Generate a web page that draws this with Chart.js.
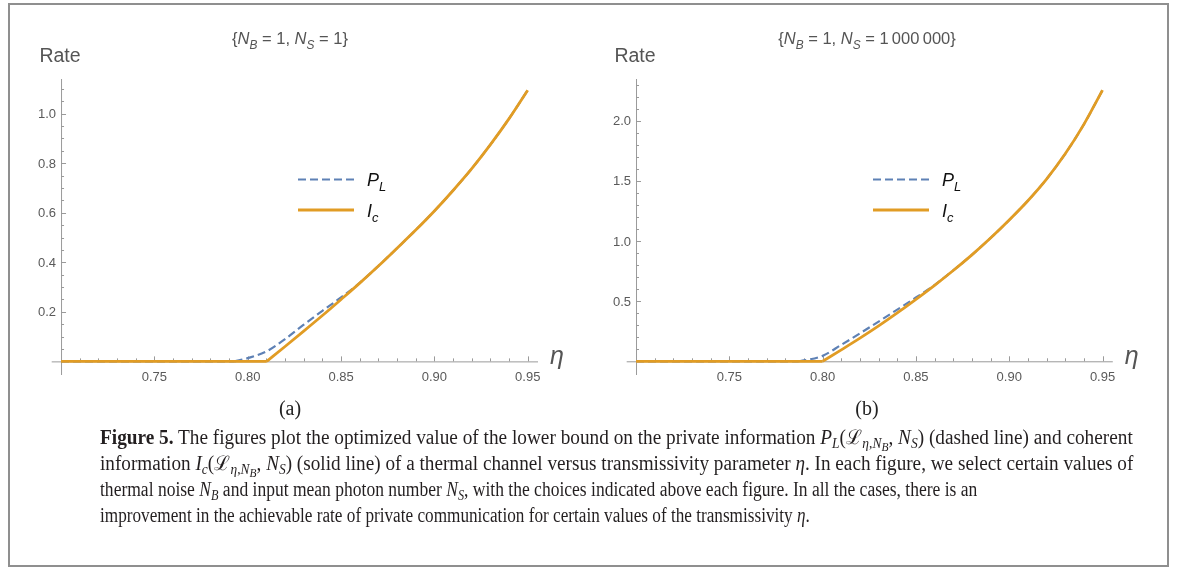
<!DOCTYPE html>
<html>
<head>
<meta charset="utf-8">
<script src="https://cdn.jsdelivr.net/npm/chart.js@4.4.0/dist/chart.umd.min.js"></script>
<style>
  html, body { margin:0; padding:0; background:#fff; width:1182px; height:571px; overflow:hidden; }
  #wrap { position:relative; width:1182px; height:571px; }
  canvas { position:absolute; top:0; }
  #frame { position:absolute; left:8px; top:3px; width:1157px; height:560px; border:2px solid #8f8f8f; pointer-events:none; }
  .cap { position:absolute; left:100px; white-space:nowrap; font-family:"Liberation Serif", serif; font-size:20px; line-height:26px; color:#231f20; transform-origin:0 50%; }
  .cap sub { font-size:70%; line-height:0; vertical-align:-0.25em; }
  .cap sub sub { font-size:85%; }
</style>
</head>
<body>
<div id="wrap">
  <canvas id="cA" width="590" height="430" style="left:0px"></canvas>
  <canvas id="cB" width="592" height="430" style="left:590px"></canvas>
  <div class="cap" id="l1" style="top:424px"><b>Figure 5.</b> The figures plot the optimized value of the lower bound on the private information <i>P</i><sub><i>L</i></sub>(ℒ<sub><i>η</i>,<i>N</i><sub><i>B</i></sub></sub>, <i>N</i><sub><i>S</i></sub>) (dashed line) and coherent</div>
  <div class="cap" id="l2" style="top:450px">information <i>I</i><sub><i>c</i></sub>(ℒ<sub><i>η</i>,<i>N</i><sub><i>B</i></sub></sub>, <i>N</i><sub><i>S</i></sub>) (solid line) of a thermal channel versus transmissivity parameter <i>η</i>. In each figure, we select certain values of</div>
  <div class="cap" id="l3" style="top:476px">thermal noise <i>N</i><sub><i>B</i></sub> and input mean photon number <i>N</i><sub><i>S</i></sub>, with the choices indicated above each figure. In all the cases, there is an</div>
  <div class="cap" id="l4" style="top:502px">improvement in the achievable rate of private communication for certain values of the transmissivity <i>η</i>.</div>
  <div id="frame"></div>
</div>
<script>
// ---------------- DATA ----------------
// Panel (a): N_B = 1, N_S = 1
const etaA_PL = [0.70, 0.75, 0.793, 0.80, 0.81, 0.82, 0.83, 0.84, 0.85, 0.86, 0.87, 0.88, 0.89, 0.90, 0.91, 0.92, 0.93, 0.94, 0.95];
const plA     = [0,    0,    0,     0.013, 0.04, 0.09, 0.148, 0.204, 0.258, 0.317, 0.385, 0.457, 0.53, 0.607, 0.69, 0.778, 0.875, 0.98, 1.095];
const etaA_Ic = [0.70, 0.75, 0.8102, 0.82, 0.83, 0.84, 0.85, 0.86, 0.87, 0.88, 0.89, 0.90, 0.91, 0.92, 0.93, 0.94, 0.95];
const icA     = [0,    0,    0,      0.06, 0.122, 0.185, 0.25, 0.316, 0.385, 0.457, 0.53, 0.607, 0.69, 0.778, 0.875, 0.98, 1.095];

// Panel (b): N_B = 1, N_S = 1 000 000
const etaB_PL = [0.70, 0.75, 0.787, 0.79, 0.80, 0.81, 0.82, 0.83, 0.84, 0.85, 0.86, 0.87, 0.88, 0.89, 0.90, 0.91, 0.92, 0.93, 0.94, 0.95];
const plB     = [0,    0,    0,     0.007, 0.045, 0.137, 0.232, 0.33, 0.43, 0.53, 0.634, 0.755, 0.885, 1.025, 1.175, 1.335, 1.515, 1.725, 1.97, 2.255];
const etaB_Ic = [0.70, 0.75, 0.80, 0.81, 0.82, 0.83, 0.84, 0.85, 0.86, 0.87, 0.88, 0.89, 0.90, 0.91, 0.92, 0.93, 0.94, 0.95];
const icB     = [0,    0,    0,    0.095, 0.192, 0.294, 0.402, 0.515, 0.632, 0.755, 0.885, 1.025, 1.175, 1.335, 1.515, 1.725, 1.97, 2.255];

// Tick labels
const xTickVals   = [0.75, 0.80, 0.85, 0.90, 0.95];
const xTickLabels = ['0.75', '0.80', '0.85', '0.90', '0.95'];
const yTickValsA   = [0.2, 0.4, 0.6, 0.8, 1.0];
const yTickLabelsA = ['0.2', '0.4', '0.6', '0.8', '1.0'];
const yTickValsB   = [0.5, 1.0, 1.5, 2.0];
const yTickLabelsB = ['0.5', '1.0', '1.5', '2.0'];

const seriesNames = ['P_L', 'I_c'];
const titleA = [['{',0,0],['N',1,0],['B',1,1],[' = 1, ',0,0],['N',1,0],['S',1,1],[' = 1}',0,0]];
const titleB = [['{',0,0],['N',1,0],['B',1,1],[' = 1, ',0,0],['N',1,0],['S',1,1],[' = 1\u2009000\u2009000}',0,0]];

// ---------------- DRAWING ----------------
const BLUE = '#5e81b5', ORANGE = '#e19c24';
const SANS = '"Liberation Sans", Arial, sans-serif';

function pts(xs, ys){ return xs.map((x,i)=>({x:x, y:ys[i]})); }
// split a series at its last zero so the kink stays sharp
function splitAtKink(xs, ys){
  let k = 0;
  for (let i = 0; i < ys.length; i++) if (ys[i] === 0) k = i;
  return [pts(xs.slice(0, k+1), ys.slice(0, k+1)), pts(xs.slice(k), ys.slice(k))];
}

function drawRich(ctx, segs, x, y, size, color, align){
  const font = (it, s) => (it ? 'italic ' : '') + s + 'px ' + SANS;
  let w = 0;
  segs.forEach(s => { ctx.font = font(s[1], s[2] ? size*0.72 : size); w += ctx.measureText(s[0]).width; });
  let cx = align === 'center' ? x - w/2 : x;
  ctx.fillStyle = color; ctx.textAlign = 'left'; ctx.textBaseline = 'alphabetic';
  segs.forEach(s => {
    const sz = s[2] ? size*0.72 : size;
    ctx.font = font(s[1], sz);
    ctx.fillText(s[0], cx, y + (s[2] ? size*0.28 : 0));
    cx += ctx.measureText(s[0]).width;
  });
}

function makeChart(id, cfg){
  const axesPlugin = {
    id: 'mmaAxes',
    beforeDatasetsDraw(chart){
      const ctx = chart.ctx, xs = chart.scales.x, ys = chart.scales.y, a = chart.chartArea;
      const ax = xs.getPixelForValue(0.70), ay = ys.getPixelForValue(0);
      ctx.save();
      ctx.strokeStyle = '#9a9a9a'; ctx.lineWidth = 1;
      ctx.beginPath();
      ctx.moveTo(a.left, ay + 0.5); ctx.lineTo(a.right, ay + 0.5);
      ctx.moveTo(ax + 0.5, a.top); ctx.lineTo(ax + 0.5, a.bottom);
      ctx.stroke();
      ctx.beginPath();
      for (let i = 71; i <= 95; i++){
        const v = i/100, px = Math.round(xs.getPixelForValue(v)) + 0.5;
        const len = (i % 5 === 0) ? 5 : 3;
        ctx.moveTo(px, ay); ctx.lineTo(px, ay - len);
      }
      for (let k = 1; k * cfg.yMinor <= cfg.ymax + 1e-9; k++){
        const v = k * cfg.yMinor, py = Math.round(ys.getPixelForValue(v)) + 0.5;
        const major = cfg.yTickVals.some(t => Math.abs(t - v) < 1e-6);
        ctx.moveTo(ax, py); ctx.lineTo(ax + (major ? 5 : 3), py);
      }
      ctx.stroke();
      ctx.fillStyle = '#5a5a5a'; ctx.font = '13px ' + SANS;
      ctx.textAlign = 'center'; ctx.textBaseline = 'middle';
      xTickVals.forEach((v,i) => ctx.fillText(xTickLabels[i], xs.getPixelForValue(v), ay + 16));
      ctx.textAlign = 'right';
      cfg.yTickVals.forEach((v,i) => ctx.fillText(cfg.yTickLabels[i], ax - 5, ys.getPixelForValue(v) + 1));
      ctx.restore();
    },
    afterDraw(chart){
      const ctx = chart.ctx, xs = chart.scales.x, ys = chart.scales.y;
      const ax = xs.getPixelForValue(0.70), ay = ys.getPixelForValue(0);
      ctx.save();
      drawRich(ctx, cfg.title, cfg.titleX, 44, 16.5, '#555555', 'center');
      ctx.fillStyle = '#555555'; ctx.font = '19.5px ' + SANS; ctx.textAlign = 'center'; ctx.textBaseline = 'alphabetic';
      ctx.fillText('Rate', ax - 1, 62);
      ctx.font = 'italic 25px ' + SANS; ctx.textAlign = 'left';
      ctx.fillText('\u03B7', xs.right + 12, ay + 3);
      const lx0 = cfg.legX, lx1 = cfg.legX + 56;
      ctx.lineWidth = 2; ctx.strokeStyle = BLUE; ctx.setLineDash([8,4]);
      ctx.beginPath(); ctx.moveTo(lx0, 179.5); ctx.lineTo(lx1, 179.5); ctx.stroke();
      ctx.setLineDash([]); ctx.lineWidth = 3; ctx.strokeStyle = ORANGE;
      ctx.beginPath(); ctx.moveTo(lx0, 210); ctx.lineTo(lx1, 210); ctx.stroke();
      drawRich(ctx, [['P',1,0],['L',1,1]], lx0 + 69, 186, 18, '#111', 'left');
      drawRich(ctx, [['I',1,0],['c',1,1]], lx0 + 69, 217, 18, '#111', 'left');
      ctx.fillStyle = '#222'; ctx.font = '20px "Liberation Serif", serif'; ctx.textAlign = 'center'; ctx.textBaseline = 'middle';
      ctx.fillText(cfg.panel, cfg.titleX, 410);
      ctx.restore();
    }
  };
  const ic = splitAtKink(cfg.etaIc, cfg.ic);
  const pl = splitAtKink(cfg.etaPL, cfg.pl);
  const base = { pointRadius: 0, cubicInterpolationMode: 'monotone' };
  return new Chart(document.getElementById(id), {
    type: 'line',
    data: { datasets: [
      Object.assign({ label: seriesNames[1], data: ic[0], borderColor: ORANGE, borderWidth: 2.8, order: 0 }, base),
      Object.assign({ label: seriesNames[1], data: ic[1], borderColor: ORANGE, borderWidth: 2.8, order: 1 }, base),
      Object.assign({ label: seriesNames[0], data: pl[0], borderColor: BLUE, borderWidth: 2.2, borderDash: [8,4], order: 2 }, base),
      Object.assign({ label: seriesNames[0], data: pl[1], borderColor: BLUE, borderWidth: 2.2, borderDash: [8,4], order: 3 }, base)
    ]},
    options: {
      responsive: false, animation: false, devicePixelRatio: 1,
      layout: { padding: cfg.pad },
      scales: {
        x: { type: 'linear', min: 0.695, max: 0.9555, display: false },
        y: { type: 'linear', min: cfg.ymin, max: cfg.ymax, display: false }
      },
      plugins: { legend: { display: false }, tooltip: { enabled: false } }
    },
    plugins: [axesPlugin]
  });
}

makeChart('cA', {
  etaPL: etaA_PL, pl: plA, etaIc: etaA_Ic, ic: icA,
  ymin: -0.055, ymax: 1.14, yMinor: 0.05, yTickVals: yTickValsA, yTickLabels: yTickLabelsA,
  pad: { left: 51.7, right: 52, top: 79, bottom: 55 },
  title: titleA, titleX: 290, legX: 298, panel: '(a)'
});
makeChart('cB', {
  etaPL: etaB_PL, pl: plB, etaIc: etaB_Ic, ic: icB,
  ymin: -0.114, ymax: 2.347, yMinor: 0.1, yTickVals: yTickValsB, yTickLabels: yTickLabelsB,
  pad: { left: 36.7, right: 69.2, top: 79, bottom: 55 },
  title: titleB, titleX: 277, legX: 283, panel: '(b)'
});

// caption: fit each line to the width it has in the reference
const capW = { l1: 1033, l2: 1033, l3: 877, l4: 710 };
Object.keys(capW).forEach(id => {
  const el = document.getElementById(id);
  el.style.transform = 'scaleX(' + (capW[id] / el.scrollWidth) + ')';
});
</script>
</body>
</html>
